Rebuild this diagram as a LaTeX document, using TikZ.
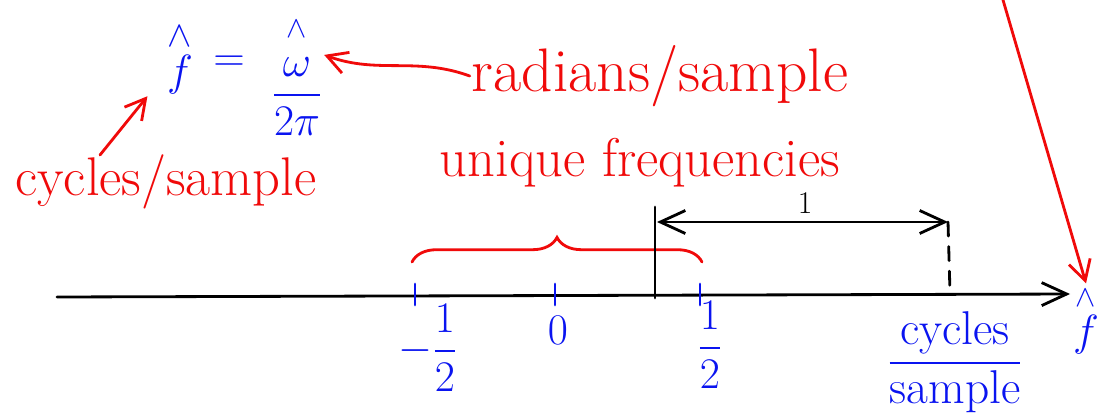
\documentclass[tikz,border=0pt]{standalone}
\usepackage{amsmath}
\usepackage{tikz}
\usetikzlibrary{arrows.meta, positioning, decorations.pathreplacing}
\definecolor{inkblue}{HTML}{0A14F0}
\definecolor{inkred}{HTML}{F00A0A}

\begin{document}
\begin{tikzpicture}[
    x=0.02cm, y=-0.02cm,
    ink/.style={line width=1.6pt, line cap=round},
    arr/.style={ink, -{Straight Barb[length=5mm, width=4.6mm]}},
    dblarr/.style={ink, {Straight Barb[length=5mm, width=4.6mm]}-{Straight Barb[length=5mm, width=4.6mm]}},
    redarr/.style={ink, inkred, -{Straight Barb[length=4mm, width=4.4mm]}},
    bluetxt/.style={text=inkblue, font=\fontsize{24}{28}\selectfont, inner sep=1pt},
    redtxt/.style={text=inkred, font=\fontsize{31}{36}\selectfont, inner sep=1pt},
    blktxt/.style={font=\fontsize{18}{22}\selectfont, inner sep=1pt}
]
    \useasboundingbox (0,0) rectangle (1101,416);

    \node[bluetxt, font=\fontsize{30}{34}\selectfont] (fhat) at (180,58) {$\overset{\wedge}{f}$};
    \node[bluetxt] (eq) at (229,64) {$=$};
    \node[bluetxt] (frac) at (297,76) {$\dfrac{\overset{\wedge}{\vphantom{f}\omega}}{2\pi}$};

    \node[redtxt, font=\fontsize{35}{40}\selectfont] (rad) at (660,76) {radians/sample};
    \node[redtxt] (cyc) at (166,182) {cycles/sample};
    \node[redtxt] (uniq) at (640,163) {unique frequencies};
    \coordinate (cyctail) at (100,155);

    \draw[redarr] (rad.west) to[out=160, in=-20] ([yshift=12pt]frac.east);
    \draw[redarr] (cyctail) -- ([xshift=-10pt]fhat.south west);

    \coordinate (ax0) at (57,297);
    \coordinate (ax1) at (1070,294);
    \draw[arr] (ax0) -- (ax1);
    \node[bluetxt, anchor=east] (fax) at (1101,320) {$\overset{\wedge}{f}$};
    \coordinate (toptail) at (1003,0);
    \draw[redarr] (toptail) -- (fax.north);

    \foreach \x/\nm in {415/tm, 555/tz, 700/tp}
        \draw[ink, inkblue] (\x,284) coordinate (\nm) -- (\x,305);
    \node[bluetxt] (lm) at (428,348) {$-\dfrac{1}{2}$};
    \node[bluetxt] (lz) at (558,330) {$0$};
    \node[bluetxt] (lp) at (710,345) {$\dfrac{1}{2}$};

    \draw[ink, inkred, decorate, decoration={brace, amplitude=14pt}] (412,262) -- (702,262);

    \coordinate (vtop) at (655,207);
    \coordinate (vbot) at (655,298);
    \draw[ink] (vtop) -- (vbot);
    \coordinate (dl) at (657,222);
    \coordinate (dr) at (948,222);
    \coordinate (dbot) at (950,293);
    \draw[dblarr] (dl) -- (dr);
    \node[blktxt] (one) at (805,203) {1};
    \draw[ink, dash pattern=on 8pt off 6pt] (dr) -- (dbot);

    \node[bluetxt, font=\fontsize{27}{32}\selectfont] (cs) at (955,362) {$\dfrac{\text{cycles}}{\text{sample}}$};
\end{tikzpicture}
\end{document}
